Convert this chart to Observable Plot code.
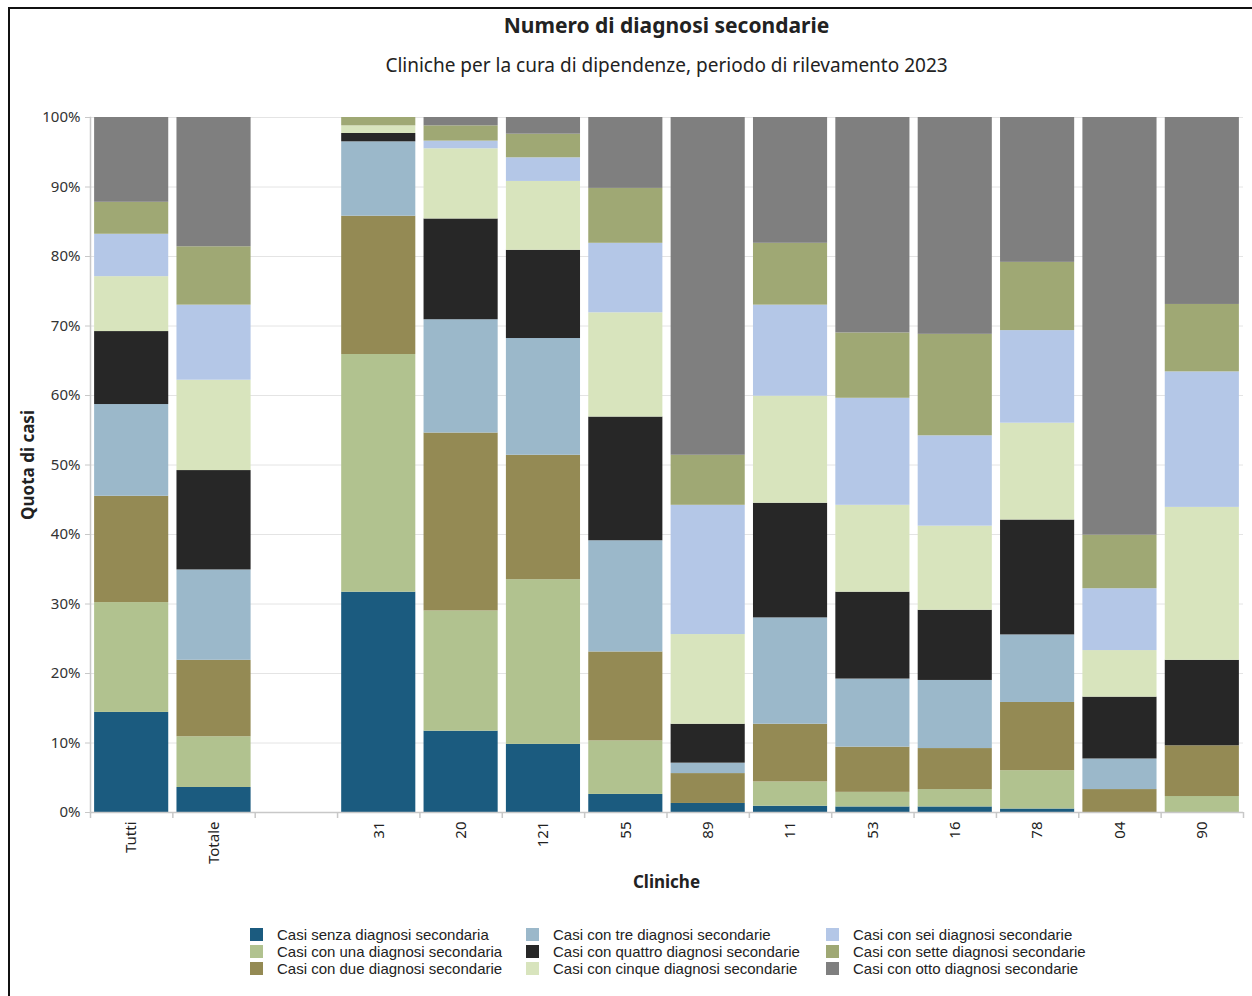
<!DOCTYPE html>
<html>
<head>
<meta charset="utf-8">
<script src="https://cdn.jsdelivr.net/npm/d3@7"></script>
<script src="https://cdn.jsdelivr.net/npm/@observablehq/plot@0.6"></script>
<style>
  html, body { margin: 0; padding: 0; background: #fff; }
  #page { position: relative; width: 1252px; height: 996px; overflow: hidden; font-family: "Noto Sans", sans-serif; color: #222; }
  #frame { position: absolute; left: 8px; top: 7px; width: 1400px; height: 1200px; border-top: 2px solid #111; border-left: 2px solid #111; }
  .title { position: absolute; left: 90px; width: 1153px; text-align: center; white-space: nowrap; }
  #chart { position: absolute; left: 0; top: 100px; }
  .leg { position: absolute; font-family: "Liberation Sans", Arial, sans-serif; font-size: 15px; line-height: 17px; white-space: nowrap; color: #222; }
  .sw { position: absolute; width: 13px; height: 13px; }
</style>
</head>
<body>
<div id="page">
  <div id="frame"></div>
  <div class="title" style="top:11px;font-size:21px;font-weight:bold;">Numero di diagnosi secondarie</div>
  <div class="title" style="top:52px;font-size:19px;">Cliniche per la cura di dipendenze, periodo di rilevamento 2023</div>
  <div id="chart"></div>
  <div style="position:absolute;left:27px;top:465px;transform:translate(-50%,-50%) rotate(-90deg);font-size:17px;font-weight:bold;white-space:nowrap;">Quota di casi</div>
  <div class="title" style="top:870px;font-size:17px;font-weight:bold;">Cliniche</div>
  <div id="legend"></div>
</div>
<script>
const cliniche = ["Tutti", "Totale", " ", "31", "20", "121", "55", "89", "11", "53", "16", "78", "04", "90"];

const serie = [
  "Casi senza diagnosi secondaria",
  "Casi con una diagnosi secondaria",
  "Casi con due diagnosi secondarie",
  "Casi con tre diagnosi secondarie",
  "Casi con quattro diagnosi secondarie",
  "Casi con cinque diagnosi secondarie",
  "Casi con sei diagnosi secondarie",
  "Casi con sette diagnosi secondarie",
  "Casi con otto diagnosi secondarie"
];

const colori = ["#1b5b7f", "#b1c28f", "#948a54", "#9bb8ca", "#272727", "#d8e4bd", "#b4c7e7", "#9fa874", "#7f7f7f"];

// values in % per clinic (order of cliniche; null = empty slot)
const senza   = [14.4,  3.6, null, 31.7, 11.7,  9.8,  2.6,  1.3,  0.9,  0.8,  0.8,  0.5,  0.0,  0.0];
const una     = [15.8,  7.3, null, 34.2, 17.3, 23.7,  7.7,  0.0,  3.5,  2.1,  2.5,  5.5,  0.0,  2.3];
const due     = [15.3, 11.0, null, 19.9, 25.6, 17.9, 12.8,  4.3,  8.3,  6.5,  5.9,  9.8,  3.3,  7.3];
const tre     = [13.2, 13.0, null, 10.7, 16.3, 16.8, 16.0,  1.5, 15.3,  9.8,  9.8,  9.7,  4.4,  0.0];
const quattro = [10.5, 14.3, null,  1.2, 14.5, 12.7, 17.8,  5.6, 16.5, 12.5, 10.1, 16.5,  8.9, 12.3];
const cinque  = [ 7.9, 13.0, null,  1.1, 10.1,  9.9, 15.0, 12.9, 15.4, 12.5, 12.1, 13.9,  6.7, 22.0];
const sei     = [ 6.1, 10.8, null,  0.0,  1.1,  3.4, 10.0, 18.6, 13.1, 15.4, 13.0, 13.3,  8.9, 19.5];
const sette   = [ 4.6,  8.4, null,  1.2,  2.2,  3.4,  7.9,  7.2,  8.9,  9.4, 14.6,  9.8,  7.7,  9.7];
const otto    = [12.2, 18.6, null,  0.0,  1.2,  2.4, 10.2, 48.6, 18.1, 31.0, 31.2, 20.8, 60.1, 26.9];

const valori = [senza, una, due, tre, quattro, cinque, sei, sette, otto];

const data = [];
valori.forEach((arr, si) => {
  arr.forEach((v, ci) => {
    if (v != null && v > 0) data.push({clinica: cliniche[ci], serie: serie[si], valore: v});
  });
});

const W = 1252, H = 800;
const mL = 90, mR = 9;
const step = (W - mL - mR) / (cliniche.length - 0.1 + 2 * 0.05);

const chart = Plot.plot({
  width: W,
  height: H,
  marginTop: 17,
  marginBottom: 88,
  marginLeft: mL,
  marginRight: mR,
  style: {fontFamily: "Noto Sans, sans-serif", fontSize: "15px", background: "transparent", color: "#333"},
  x: {domain: cliniche, paddingInner: 0.1, paddingOuter: 0.05, round: false, label: null},
  y: {domain: [0, 1], label: null},
  color: {domain: serie, range: colori},
  marks: [
    Plot.gridY({ticks: 10, stroke: "#e4e4e4", strokeOpacity: 1}),
    Plot.barY(data, Plot.stackY({x: "clinica", y: "valore", fill: "serie", order: serie, offset: "normalize"})),
    Plot.ruleY([0], {stroke: "#c8c8c8", strokeWidth: 1.5}),
    Plot.frame({anchor: "left", stroke: "#c8c8c8", strokeWidth: 1.5}),
    Plot.axisY({ticks: 10, tickFormat: d3.format(".0%"), tickSize: 5, tickPadding: 5, stroke: "#c8c8c8", fill: "#333", fontSize: 15, label: null}),
    Plot.axisX({tickRotate: -90, tickSize: 0, tickPadding: 9, fill: "#222", fontSize: 15, label: null}),
    Plot.axisX({tickFormat: () => "", tickSize: 6, stroke: "#c8c8c8", strokeWidth: 1.5, dx: -step / 2, label: null}),
    Plot.axisX({ticks: [cliniche[cliniche.length - 1]], tickFormat: () => "", tickSize: 6, stroke: "#c8c8c8", strokeWidth: 1.5, dx: step / 2, label: null})
  ]
});
document.getElementById("chart").appendChild(chart);

// legend, 3 columns, filled column-wise
const legend = document.getElementById("legend");
const colX = [250, 526, 826];
const rowY = [926, 943, 960];
serie.forEach((s, i) => {
  const c = Math.floor(i / 3), r = i % 3;
  const sw = document.createElement("div");
  sw.className = "sw";
  sw.style.left = colX[c] + "px";
  sw.style.top = (rowY[r] + 2) + "px";
  sw.style.background = colori[i];
  legend.appendChild(sw);
  const t = document.createElement("div");
  t.className = "leg";
  t.style.left = (colX[c] + 27) + "px";
  t.style.top = rowY[r] + "px";
  t.textContent = s;
  legend.appendChild(t);
});
</script>
</body>
</html>
